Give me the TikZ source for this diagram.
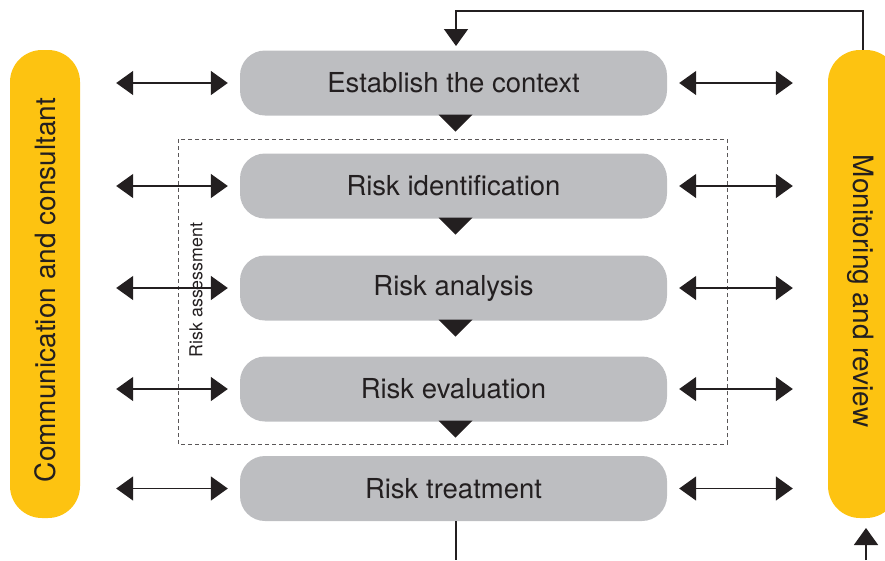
\documentclass[tikz,border=0pt]{standalone}
\usepackage{fontspec}
\setmainfont{TeX Gyre Heros}
\usetikzlibrary{arrows.meta}
\definecolor{ylw}{HTML}{FDC311}
\definecolor{gry}{HTML}{BDBEC1}
\definecolor{ink}{HTML}{231F20}
\tikzset{
  stepbox/.style={fill=gry, rounded corners=25pt, minimum width=427pt, minimum height=65pt, inner sep=0pt, text=ink, font=\fontsize{27.5}{32}\selectfont},
  sidebox/.style={fill=ylw, rounded corners=32pt, minimum width=70pt, minimum height=468pt, inner sep=0pt},
  tip/.style={-{Triangle[length=17pt,width=24pt]}},
  dbl/.style={{Triangle[length=17pt,width=24pt]}-{Triangle[length=17pt,width=24pt]}, line width=1.6pt, draw=ink},
  flow/.style={line width=1.6pt, draw=ink},
  sidetext/.style={text=ink, font=\fontsize{28}{32}\selectfont}
}
\begin{document}
\begin{tikzpicture}[x=1pt,y=-1pt]
\useasboundingbox (0,0) rectangle (885,560);
% side boxes
\node[sidebox] (comm) at (45,284) {};
\node[sidetext, rotate=90] (commt) at (45,290) {Communication and consultant};
\node[sidebox] (mon) at (863,284) {};
\node[sidetext, rotate=-90] (mont) at (861,291) {Monitoring and review};
% dashed assessment frame
\draw[ink!75, line width=1pt, dash pattern=on 4pt off 3pt] (178,139) rectangle (727,444);
\node[text=ink, rotate=90, font=\fontsize{17.8}{20}\selectfont] (ra) at (196,290) {Risk assessment};
% steps
\node[stepbox] (est) at (453.5,83) {Establish the context};
\node[stepbox] (ide) at (453.5,186) {Risk identification};
\node[stepbox] (ana) at (453.5,288) {Risk analysis};
\node[stepbox] (eva) at (453.5,389) {Risk evaluation};
\node[stepbox] (tre) at (453.5,488.5) {Risk treatment};
% down triangles
\foreach \b in {est,ide,ana,eva}{
  \fill[ink] ([xshift=-15pt,yshift=1pt]\b.south) -- ([xshift=19pt,yshift=1pt]\b.south) -- ([xshift=2pt,yshift=-16pt]\b.south) -- cycle;
}
% double arrows
\foreach \b in {est,ide,ana,eva,tre}{
  \draw[dbl, shorten <=36pt, shorten >=12pt] (comm.east |- \b.west) -- (\b.west);
  \draw[dbl, shorten <=12pt, shorten >=35pt] (\b.east) -- (mon.west |- \b.east);
}
% feedback loop
\coordinate (tr) at (863,11);
\coordinate (tl) at (456,11);
\coordinate (estn) at (456,50);
\draw[flow, tip, shorten >=4pt] (mon.north) -- (tr) -- (tl) -- (estn);
\coordinate (bl) at (456,560);
\coordinate (br) at (866,560);
\coordinate (monb) at (866,518);
\draw[flow] (456,521) -- (bl);
\draw[flow, tip, shorten >=10pt] (br) -- (monb);
\end{tikzpicture}
\end{document}
